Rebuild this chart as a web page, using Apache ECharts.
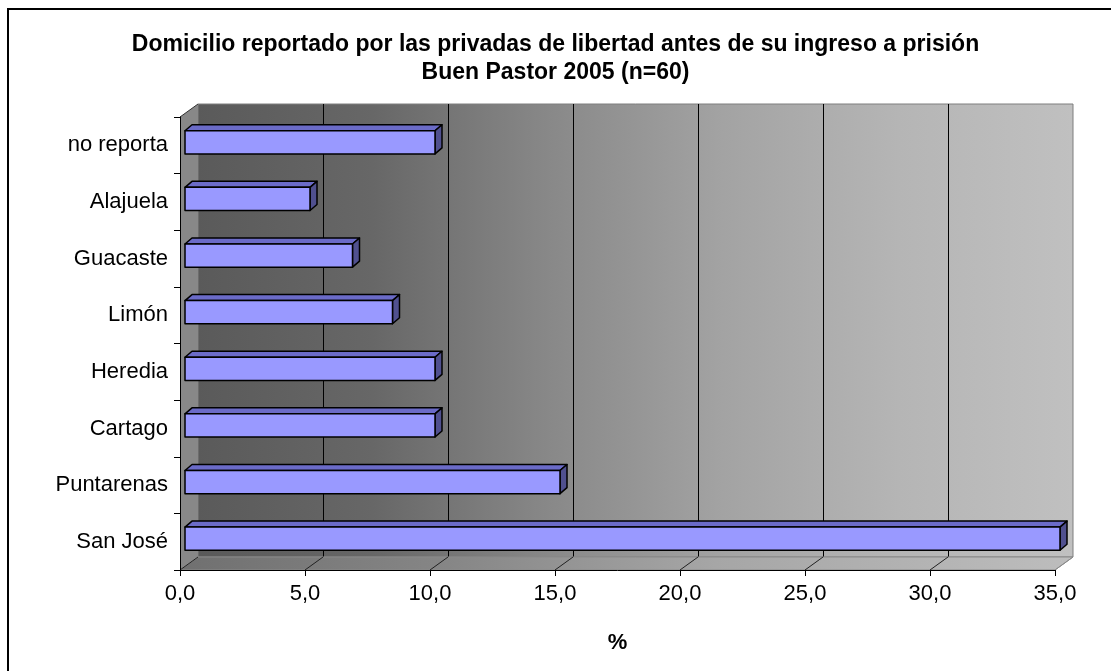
<!DOCTYPE html>
<html>
<head>
<meta charset="utf-8">
<title>Domicilio reportado</title>
<script src="https://cdn.jsdelivr.net/npm/echarts@6/dist/echarts.min.js"></script>
<style>
    html, body { margin: 0; padding: 0; background: #fff; }
    #main { width: 1111px; height: 671px; }
</style>
</head>
<body>
<div id="main"></div>
<script>
// datos: domicilio antes del ingreso (porcentaje, n=60)
var categorias = ['San José', 'Puntarenas', 'Cartago', 'Heredia', 'Limón', 'Guacaste', 'Alajuela', 'no reporta'];
var porcentajes = [35.0, 15.0, 10.0, 10.0, 8.3, 6.7, 5.0, 10.0];
var ejeMin = 0, ejeMax = 35, ejePaso = 5;

var FONT = '"Liberation Sans", Arial, sans-serif';
var DX = 18, DY = -13;   // profundidad de las paredes
var BX = 7, BY = -6;     // profundidad de las barras

var chart = echarts.init(document.getElementById('main'));

function fmt(v) {
    return v.toFixed(1).replace('.', ',');
}

//paredes y piso
function renderWalls(params, api) {
    var cs = params.coordSys;
    var x = cs.x, y = cs.y, w = cs.width, h = cs.height;
    var children = [];
    children.push({
        type: 'polygon',
        shape: { points: [[x, y + h], [x + w, y + h], [x + w + DX, y + h + DY], [x + DX, y + h + DY]] },
        style: {
            fill: new echarts.graphic.LinearGradient(0, 0, 1, 0, [
                { offset: 0, color: '#707070' },
                { offset: 0.3, color: '#868686' },
                { offset: 0.6, color: '#a6a6a6' },
                { offset: 1, color: '#bdbdbd' }
            ]),
            stroke: '#8a8a8a', lineWidth: 1
        }
    });
    children.push({
        type: 'polygon',
        shape: { points: [[x, y], [x + DX, y + DY], [x + DX, y + h + DY], [x, y + h]] },
        style: { fill: '#888888', stroke: null }
    });
    children.push({
        type: 'line',
        shape: { x1: x, y1: y, x2: x + DX, y2: y + DY },
        style: { stroke: '#333', lineWidth: 1 }
    });
    for (var v = ejeMin; v <= ejeMax; v += ejePaso) {
        var px = api.coord([v, 0])[0];
        children.push({
            type: 'line',
            shape: { x1: px, y1: y + h, x2: px + DX, y2: y + h + DY },
            style: { stroke: v == ejeMax ? '#8a8a8a' : '#222', lineWidth: 1 }
        });
    }
    return { type: 'group', children: children };
}

//barras 3D
function renderBar(params, api) {
    var val = api.value(0), cat = api.value(1);
    var p0 = api.coord([0, cat]);
    var p1 = api.coord([val, cat]);
    var bh = api.size([0, 1])[1] * 0.41;
    var x0 = p0[0] + 5, x1 = p1[0] + 5;
    var yc = p0[1] - 3;
    var yt = yc - bh / 2, yb = yc + bh / 2;
    var st = { stroke: '#000', lineWidth: 1.5, lineJoin: 'round' };
    return {
        type: 'group',
        children: [{
            type: 'polygon',
            shape: { points: [[x0, yt], [x1, yt], [x1 + BX, yt + BY], [x0 + BX, yt + BY]] },
            style: echarts.util.extend({ fill: '#6b6bc8' }, st)
        }, {
            type: 'polygon',
            shape: { points: [[x1, yt], [x1 + BX, yt + BY], [x1 + BX, yb + BY], [x1, yb]] },
            style: echarts.util.extend({ fill: '#50508f' }, st)
        }, {
            type: 'rect',
            shape: { x: x0, y: yt, width: x1 - x0, height: yb - yt },
            style: echarts.util.extend({ fill: '#9999ff' }, st)
        }]
    };
}

var barData = porcentajes.map(function (v, i) { return [v, i]; });

var option = {
    animation: false,
    backgroundColor: '#fff',
    title: {
        text: 'Domicilio reportado por las privadas de libertad antes de su ingreso a prisión\nBuen Pastor 2005 (n=60)',
        left: 'center',
        top: 26,
        textStyle: { fontFamily: FONT, fontSize: 23, fontWeight: 'bold', color: '#000', lineHeight: 28 }
    },
    graphic: [{
        type: 'rect',
        shape: { x: 8, y: 9, width: 1300, height: 1000 },
        style: { fill: null, stroke: '#000', lineWidth: 2 },
        silent: true
    }],
    grid: [{
        // pared del fondo
        left: 180 + DX, right: 56 - DX, top: 117 + DY, bottom: 101 - DY,
        show: true,
        backgroundColor: new echarts.graphic.LinearGradient(0, 0, 1, 0, [
            { offset: 0, color: '#5a5a5a' },
            { offset: 0.2, color: '#676767' },
            { offset: 0.4, color: '#888888' },
            { offset: 0.6, color: '#a3a3a3' },
            { offset: 0.8, color: '#b5b5b5' },
            { offset: 1, color: '#c0c0c0' }
        ]),
        borderColor: '#7f7f7f',
        borderWidth: 1
    }, {
        left: 180, right: 56, top: 117, bottom: 101
    }],
    xAxis: [{
        gridIndex: 0, type: 'value', min: ejeMin, max: ejeMax, interval: ejePaso,
        axisLine: { show: false }, axisTick: { show: false }, axisLabel: { show: false },
        splitLine: { show: true, showMinLine: false, showMaxLine: false, lineStyle: { color: '#000', width: 1 } }
    }, {
        gridIndex: 1, type: 'value', min: ejeMin, max: ejeMax, interval: ejePaso, z: 5,
        axisLine: { show: true, lineStyle: { color: '#000', width: 1 } },
        axisTick: { show: true, length: 6, lineStyle: { color: '#000' } },
        axisLabel: { formatter: fmt, fontFamily: FONT, fontSize: 22, color: '#000', margin: 13 },
        splitLine: { show: false },
        name: '%', nameLocation: 'middle', nameGap: 62,
        nameTextStyle: { fontFamily: FONT, fontSize: 22, fontWeight: 'bold', color: '#000' }
    }],
    yAxis: [{
        gridIndex: 0, type: 'category', data: categorias, show: false
    }, {
        gridIndex: 1, type: 'category', data: categorias, z: 5,
        axisLine: { show: true, lineStyle: { color: '#000', width: 1 } },
        axisTick: { show: true, length: 6, lineStyle: { color: '#000' } },
        axisLabel: { fontFamily: FONT, fontSize: 22, color: '#000', margin: 12 },
        splitLine: { show: false }
    }],
    series: [{
        type: 'custom',
        name: 'paredes',
        xAxisIndex: 1, yAxisIndex: 1,
        z: 1,
        silent: true,
        renderItem: renderWalls,
        data: [[0, 0]]
    }, {
        type: 'custom',
        name: '%',
        xAxisIndex: 1, yAxisIndex: 1,
        z: 3,
        renderItem: renderBar,
        encode: { x: 0, y: 1 },
        data: barData
    }]
};

chart.setOption(option);
</script>
</body>
</html>
